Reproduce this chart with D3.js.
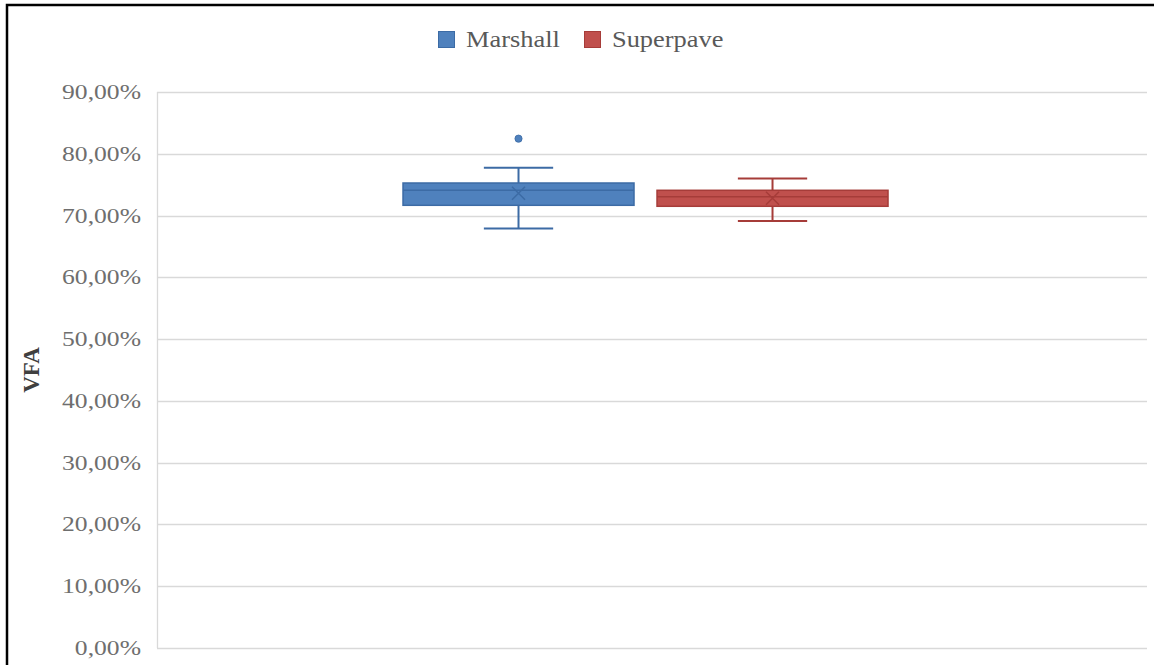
<!DOCTYPE html>
<html>
<head>
<meta charset="utf-8">
<script src="https://cdn.jsdelivr.net/npm/d3@7"></script>
<style>
  html, body { margin: 0; padding: 0; background: #fff; }
  svg { display: block; }
</style>
</head>
<body>
<svg id="chart" width="1154" height="665"></svg>
<script>
// Box-plot summaries of VFA (fractions) for each mix design method
const seriesNames = ["Marshall", "Superpave"];
const mins    = [0.6789, 0.6910];
const q1s     = [0.7166, 0.7150];
const medians = [0.7409, 0.7303];
const q3s     = [0.7527, 0.7409];
const maxs    = [0.7773, 0.7598];
const means   = [0.7360, 0.7280];
const outliers = [[0.8245], []];
const yTicks = [0, 0.1, 0.2, 0.3, 0.4, 0.5, 0.6, 0.7, 0.8, 0.9];
const yAxisTitle = "VFA";

const fills   = ["#4f81bd", "#c0504d"];
const strokes = ["#3c6ba5", "#a63c39"];

const W = 1154, H = 665;
const m = { left: 157, right: 7, top: 92, bottom: 17 };
const pw = W - m.left - m.right, ph = H - m.top - m.bottom;

const svg = d3.select("#chart");

// outer frame
svg.append("path")
  .attr("d", `M7,${H + 10} L7,5 L${W + 10},5`)
  .attr("fill", "none").attr("stroke", "#000").attr("stroke-width", 2.5);

const g = svg.append("g").attr("transform", `translate(${m.left},${m.top})`);

const y = d3.scaleLinear().domain([0, 0.9]).range([ph, 0]);
const x = d3.scaleBand().domain(seriesNames)
  .range([pw * 0.2485, pw * 0.7384]).paddingInner(0.0906);

const fmt = v => (v * 100).toFixed(2).replace(".", ",") + "%";

// gridlines
g.append("g").selectAll("line").data(yTicks).join("line")
  .attr("x1", 0).attr("x2", pw)
  .attr("y1", d => Math.round(y(d)) + 0.5).attr("y2", d => Math.round(y(d)) + 0.5)
  .attr("stroke", "#d9d9d9").attr("stroke-width", 1.3);
g.append("line").attr("x1", 0.5).attr("x2", 0.5).attr("y1", 0).attr("y2", ph)
  .attr("stroke", "#d9d9d9").attr("stroke-width", 1.3);

// y axis labels
const yAxis = d3.axisLeft(y).tickValues(yTicks).tickFormat(fmt).tickSize(0).tickPadding(16);
const ya = g.append("g").call(yAxis);
ya.select(".domain").remove();
ya.selectAll("text")
  .attr("font-family", "Liberation Serif, Times New Roman, serif")
  .attr("font-size", 21).attr("fill", "#6e6e6e")
  .attr("transform", function() { return null; })
  .each(function(d) {
    const t = d3.select(this);
    const yy = y(d);
    t.attr("transform", `translate(${-16},${yy + 7}) scale(1.22,1)`)
     .attr("x", 0).attr("dy", null).attr("y", 0).attr("text-anchor", "end");
  });
ya.selectAll(".tick").attr("transform", null);

// y axis title
svg.append("text")
  .attr("transform", `translate(39,${m.top + ph / 2}) rotate(-90)`)
  .attr("text-anchor", "middle")
  .attr("font-family", "Liberation Serif, Times New Roman, serif")
  .attr("font-weight", "bold").attr("font-size", 23).attr("fill", "#404040")
  .text(yAxisTitle);

// boxes
const boxes = g.selectAll("g.box").data(seriesNames).join("g").attr("class", "box");
boxes.each(function(name, i) {
  const b = d3.select(this);
  const x0 = x(name), bw = x.bandwidth(), cx = x0 + bw / 2;
  const capW = bw * 0.3;
  // whiskers
  b.append("line").attr("x1", cx).attr("x2", cx).attr("y1", y(maxs[i])).attr("y2", y(q3s[i]))
    .attr("stroke", strokes[i]).attr("stroke-width", 2);
  b.append("line").attr("x1", cx).attr("x2", cx).attr("y1", y(q1s[i])).attr("y2", y(mins[i]))
    .attr("stroke", strokes[i]).attr("stroke-width", 2);
  [maxs[i], mins[i]].forEach(v => {
    b.append("line").attr("x1", cx - capW / 2).attr("x2", cx + capW / 2)
      .attr("y1", y(v)).attr("y2", y(v))
      .attr("stroke", strokes[i]).attr("stroke-width", 2);
  });
  // box
  b.append("rect").attr("x", x0).attr("width", bw)
    .attr("y", y(q3s[i])).attr("height", y(q1s[i]) - y(q3s[i]))
    .attr("fill", fills[i]).attr("stroke", strokes[i]).attr("stroke-width", 1.5);
  // median
  b.append("line").attr("x1", x0).attr("x2", x0 + bw)
    .attr("y1", y(medians[i])).attr("y2", y(medians[i]))
    .attr("stroke", strokes[i]).attr("stroke-width", 1.5);
  // mean marker
  const my = y(means[i]), s = 6.5;
  b.append("path")
    .attr("d", `M${cx - s},${my - s}L${cx + s},${my + s}M${cx - s},${my + s}L${cx + s},${my - s}`)
    .attr("stroke", strokes[i]).attr("stroke-width", 1.5).attr("fill", "none");
  // outliers
  b.selectAll("circle").data(outliers[i]).join("circle")
    .attr("cx", cx).attr("cy", d => y(d)).attr("r", 3.6)
    .attr("fill", fills[i]).attr("stroke", strokes[i]).attr("stroke-width", 0.8);
});

// legend
const legend = svg.append("g");
const legendX = [438, 584];
seriesNames.forEach((name, i) => {
  legend.append("rect").attr("x", legendX[i] + 0.5).attr("y", 31.5).attr("width", 16).attr("height", 16)
    .attr("fill", fills[i]).attr("stroke", strokes[i]).attr("stroke-width", 1);
  legend.append("text")
    .attr("transform", `translate(${legendX[i] + 28},47) scale(1.1,1)`)
    .attr("font-family", "Liberation Serif, Times New Roman, serif")
    .attr("font-size", 24).attr("fill", "#595959")
    .text(name);
});
</script>
</body>
</html>
